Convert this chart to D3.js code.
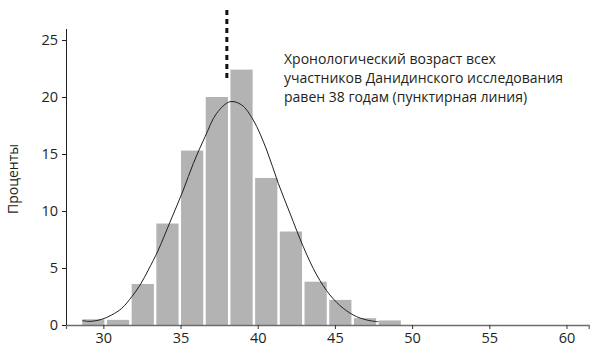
<!DOCTYPE html>
<html><head><meta charset="utf-8">
<script src="https://cdn.jsdelivr.net/npm/d3@7"></script>
<style>
body{margin:0;background:#fff;}
svg{display:block;}
text{font-family:"Open Sans",sans-serif;fill:#231f20;}
</style></head>
<body><svg id="c" width="601" height="360"></svg>
<script>
// Histogram bins (age in years) and percentage values
const binStarts = [28.6,30.2,31.8,33.4,35.0,36.6,38.2,39.8,41.4,43.0,44.6,46.2,47.8];
const binWidth = 1.6;
const percents = [0.5,0.45,3.6,8.9,15.3,20.0,22.4,12.9,8.2,3.8,2.2,0.6,0.4];
// fitted curve points
const curveAge = [28.64,29.14,29.9,30.54,31.19,31.84,32.38,32.91,33.56,34.32,35.18,35.83,36.59,37.34,38.21,38.96,39.71,40.58,41.33,42.09,42.95,43.82,44.68,45.54,46.41,47.27,47.81];
const curvePct = [0.38,0.32,0.5,0.88,1.46,2.48,3.51,4.82,6.58,9.04,11.84,14.18,16.52,18.57,19.59,19.3,17.98,15.35,12.43,9.8,6.87,4.39,2.63,1.46,0.73,0.38,0.29];
const xTicks = [30,35,40,45,50,55,60];
const yTicks = [0,5,10,15,20,25];
const meanAge = 38;
const yLabel = "Проценты";
const noteLines = ["Хронологический возраст всех","участников Данидинского исследования","равен 38 годам (пунктирная линия)"];

const svg = d3.select("#c");
const x = d3.scaleLinear().domain([27.58,61.44]).range([66,588.7]);
const y = d3.scaleLinear().domain([0,25]).range([325,40]);

// bars
svg.append("g").selectAll("rect").data(binStarts).join("rect")
  .attr("x", d=>x(d)+0.5)
  .attr("width", d=>x(d+binWidth)-x(d)-2.5)
  .attr("y", (d,i)=>y(percents[i]))
  .attr("height", (d,i)=>y(0)-y(percents[i])+1)
  .attr("fill","#b3b3b3");

// x axis
const xa = svg.append("g").attr("transform",`translate(0,${y(0)})`)
  .call(d3.axisBottom(x).tickValues(xTicks).tickSize(4).tickPadding(4).tickFormat(d3.format("d")));
xa.select(".domain").attr("stroke","#6d6d6d").attr("stroke-width",1.3);
xa.selectAll(".tick line").attr("stroke","#333");
xa.selectAll("text").attr("font-size",14.5).attr("font-family","Open Sans, sans-serif").attr("fill","#231f20");

// y axis
const ya = svg.append("g").attr("transform",`translate(66,0)`)
  .call(d3.axisLeft(y).tickValues(yTicks).tickSize(4).tickPadding(4).tickSizeOuter(0));
ya.select(".domain").attr("stroke","#231f20").attr("d","M0.5,29V325");
ya.selectAll(".tick line").attr("stroke","#231f20");
ya.selectAll("text").attr("font-size",14.5).attr("font-family","Open Sans, sans-serif").attr("fill","#231f20");

// curve
const line = d3.line().x((d,i)=>x(curveAge[i])).y((d,i)=>y(curvePct[i])).curve(d3.curveCatmullRom);
svg.append("path").datum(curveAge).attr("d",line)
  .attr("fill","none").attr("stroke","#231f20").attr("stroke-width",1);

// dashed mean line
svg.append("line").attr("x1",x(meanAge)).attr("x2",x(meanAge)).attr("y1",10).attr("y2",80)
  .attr("stroke","#111").attr("stroke-width",3).attr("stroke-dasharray","5,4");

// y label
svg.append("text").attr("transform","translate(18,179) rotate(-90)")
  .attr("text-anchor","middle").attr("font-size",14).text(yLabel);

// note
const note = svg.append("text").attr("x",284).attr("y",64).attr("font-size",14);
noteLines.forEach((t,i)=>note.append("tspan").attr("x",284).attr("dy",i?19:0).text(t));
</script></body></html>
